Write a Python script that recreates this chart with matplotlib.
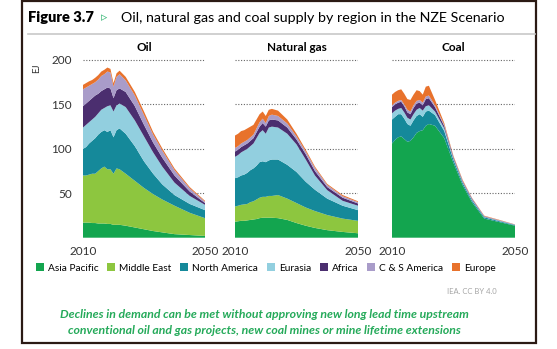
import numpy as np
import matplotlib.pyplot as plt
from matplotlib.patches import Patch, Rectangle
from matplotlib.lines import Line2D

plt.rcParams['font.family'] = ['Lato', 'DejaVu Sans']

# datos (EJ)
anios = [2010, 2011, 2012, 2013, 2014, 2015, 2016, 2017, 2018, 2019, 2020, 2021, 2022,
         2024, 2027, 2030, 2033, 2036, 2040, 2045, 2050]

regiones = ['Asia Pacific', 'Middle East', 'North America', 'Eurasia', 'Africa',
            'C & S America', 'Europe']
colores = ['#13a54f', '#8dc63f', '#15899a', '#92cfdf', '#4b2e6f', '#a99cc9', '#e8722c']

oil_asia = [17, 17, 17, 16.5, 16.5, 16, 16, 16, 15.5, 15.5, 14.5, 14.5, 14.5, 13.5, 11.5, 9.5, 7.5, 6, 4, 3, 2]
oil_me = [53, 53, 54, 55.5, 55.5, 59, 62, 64, 61.5, 61.5, 57.5, 63.5, 62.5, 58.5, 52.5, 46.5, 41.5, 37, 32, 25, 20]
oil_na = [30, 32, 35, 37, 40, 41, 41, 41, 42, 44, 41, 43, 46, 45, 39, 30, 23, 17, 12, 10, 9]
oil_eurasia = [24, 25, 24, 24, 24, 24, 25, 25, 29, 28, 29, 28, 28, 30, 29, 28, 24, 20, 14, 9, 6]
oil_africa = [24, 24, 24, 24, 24, 22, 21, 21, 21, 19, 15, 17, 17, 17, 16, 13, 11, 10, 8, 5, 2]
oil_csam = [19, 18, 17, 16, 15, 16, 17, 17, 18, 18, 13, 15, 16, 13, 12, 11, 9, 8, 6, 3.5, 1.5]
oil_europe = [5, 5, 5, 4.5, 5, 5, 5, 5, 4.5, 4, 4, 4, 4, 4, 4, 4, 3, 2.5, 2, 1.5, 1]

gas_asia = [18, 18.5, 19, 19, 19.5, 20, 20.5, 21, 22, 22.5, 22.5, 22.5, 22.5, 22, 20, 16.5, 13.5, 11, 8.5, 6.5, 5]
gas_me = [17, 17.5, 18, 18.5, 18.5, 20, 20.5, 22, 23, 23.5, 23.5, 24.5, 24.5, 26, 24, 22.5, 20.5, 19, 17, 15, 14]
gas_na = [32, 32, 33, 33.5, 35, 36, 37, 38, 40, 40, 39, 40, 41, 40, 38, 35, 29, 24, 18.5, 14.5, 12]
gas_eurasia = [24, 25, 26, 27, 27, 27, 28, 31, 33, 35, 32, 37, 37, 36, 35, 31, 25, 16, 9.5, 5.5, 5]
gas_africa = [6, 6, 6, 6, 6, 6, 6, 6.5, 7, 8, 8, 8, 8, 8, 7, 5.5, 6, 5, 3.5, 3.5, 2.5]
gas_csam = [4, 4, 4, 4, 4, 4, 4, 4.5, 5, 5, 4, 5, 5.5, 5, 4.5, 3.5, 3, 3.5, 2.3, 1.7, 1.5]
gas_europe = [14, 14, 14, 13, 13, 12, 11, 10, 9, 8, 8, 7, 6.5, 6, 4.5, 3, 2, 1.5, 1.2, 1.3, 1]

coal_asia = [106, 110, 113, 114, 111, 108, 109, 113, 118, 120, 121, 126, 128, 126, 112, 84, 59, 40, 21.5, 17.5, 13.5]
coal_me = [0] * 21
coal_na = [27, 26, 26, 25, 23, 20, 17, 19, 19, 19, 15, 16, 15, 12, 8, 3.5, 2.5, 2, 1.5, 1, 0.7]
coal_eurasia = [7, 7, 6, 7, 7, 7, 7, 7, 7, 7, 7, 6, 6, 4, 3, 1.5, 1, 1, 0.5, 0.5, 0.3]
coal_africa = [7, 7, 7, 7, 7, 6, 6, 7, 7, 6, 6, 8, 8, 5, 2.5, 1.5, 1, 1, 0.5, 0.3, 0.2]
coal_csam = [2, 2, 2, 2, 2, 3, 3, 3, 3, 3, 3, 3, 3, 2, 1.5, 0.5, 0.5, 0.5, 0.3, 0.3, 0.1]
coal_europe = [12, 12, 12, 12, 12, 12, 13, 12, 12, 10, 9, 11, 11, 6, 2, 1, 1, 0.5, 0.5, 0.4, 0.2]

paneles = [
    ('Oil', [oil_asia, oil_me, oil_na, oil_eurasia, oil_africa, oil_csam, oil_europe]),
    ('Natural gas', [gas_asia, gas_me, gas_na, gas_eurasia, gas_africa, gas_csam, gas_europe]),
    ('Coal', [coal_asia, coal_me, coal_na, coal_eurasia, coal_africa, coal_csam, coal_europe]),
]

W, H = 557, 349
fig = plt.figure(figsize=(W / 100, H / 100), dpi=100)

# posiciones en pixeles (izq, der)
pos_x = [(83, 205), (235, 358), (392, 515)]
y_abajo = 237.7
y_arriba = 237.7 - 205 * 0.8885

for i, (titulo, series) in enumerate(paneles):
    izq, der = pos_x[i]
    ax = fig.add_axes([izq / W, 1 - y_abajo / H, (der - izq) / W, (y_abajo - y_arriba) / H])
    ax.stackplot(anios, *series, colors=colores, linewidth=0)
    ax.set_xlim(2010, 2050)
    ax.set_ylim(0, 205)
    ax.set_axisbelow(True)
    ax.yaxis.grid(True, linestyle=(0, (1, 1.5)), color='#666666', linewidth=0.8)
    ax.set_yticks([50, 100, 150, 200])
    ax.set_xticks([2010, 2050])
    ax.tick_params(length=0, labelsize=8.5, colors='#333333')
    ax.tick_params(axis='x', pad=6)
    ax.tick_params(axis='y', pad=8)
    if i > 0:
        ax.set_yticklabels([])
    for s in ax.spines.values():
        s.set_visible(False)
    ax.set_title(titulo, fontsize=8.5, fontweight='bold', pad=3)

fig.text(37 / W, 1 - 68 / H, 'EJ', rotation=90, fontsize=7, ha='center', va='center', color='#333333')

# titulo
fig.text(28 / W, 1 - 18 / H, 'Figure 3.7', fontsize=10.5, fontweight='heavy', va='center')
fig.text(101 / W, 1 - 18 / H, '▹', fontsize=9, color='#3cb878', va='center', family=['DejaVu Sans'])
fig.text(121 / W, 1 - 18 / H, 'Oil, natural gas and coal supply by region in the NZE Scenario',
         fontsize=10.3, va='center')
fig.add_artist(Line2D([28 / W, 535 / W], [1 - 34 / H, 1 - 34 / H], color='#c8c8c8', lw=1.2))

# leyenda
handles = [Patch(facecolor=c, edgecolor='none') for c in colores]
fig.legend(handles, regiones, ncol=7, loc='center', bbox_to_anchor=(266 / W, 1 - 268 / H),
           frameon=False, fontsize=7.3, handlelength=0.8, handleheight=0.8,
           handletextpad=0.4, columnspacing=0.85, borderpad=0, borderaxespad=0)

fig.text(497 / W, 1 - 292 / H, 'IEA. CC BY 4.0', ha='right', va='center', fontsize=5.5, color='#a6a6a6')

verde = '#25aa5a'
fig.text(264 / W, 1 - 315 / H, 'Declines in demand can be met without approving new long lead time upstream',
         ha='center', va='center', fontsize=8.8, style='italic', fontweight='bold', color=verde)
fig.text(264 / W, 1 - 331 / H, 'conventional oil and gas projects, new coal mines or mine lifetime extensions',
         ha='center', va='center', fontsize=8.8, style='italic', fontweight='bold', color=verde)

# marco
fig.add_artist(Rectangle((22 / W, 1 - 343 / H), (536 - 22) / W, (343 - 1) / H, fill=False,
                         edgecolor='#2b1a14', linewidth=1.6, transform=fig.transFigure))

fig.savefig('out.png', dpi=100)
